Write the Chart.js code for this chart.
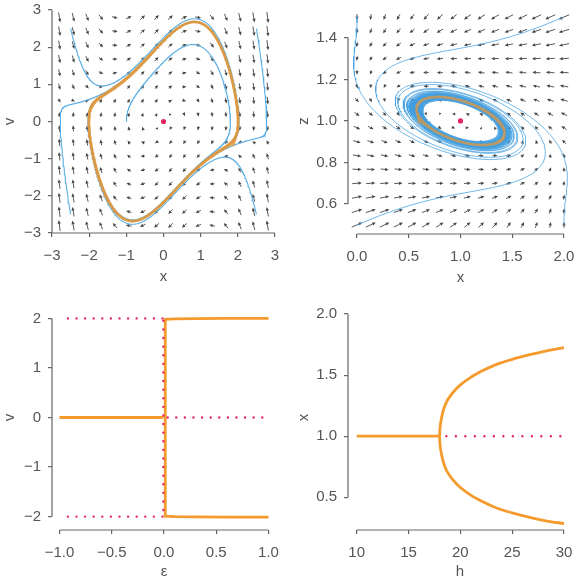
<!DOCTYPE html>
<html lang="fr">
<head>
<meta charset="utf-8">
<title>Portraits de phase et bifurcations</title>
<script src="https://cdn.jsdelivr.net/npm/chart.js@4.4.2/dist/chart.umd.min.js"></script>
<style>
  html, body { margin: 0; padding: 0; background: #fff; }
  #figure { position: relative; width: 577px; height: 582px; overflow: hidden; }
  #figure canvas { position: absolute; }
</style>
</head>
<body>
<div id="figure">
  <canvas id="vdp-phase" width="288" height="291" style="left:0;top:0"></canvas>
  <canvas id="xz-phase" width="289" height="291" style="left:288px;top:0"></canvas>
  <canvas id="eps-bif" width="288" height="292" style="left:0;top:290px"></canvas>
  <canvas id="h-bif" width="289" height="292" style="left:288px;top:290px"></canvas>
</div>
<script>
// ---- panneau 1 : Van der Pol (x, v) ----
const vdpMu = 1.0;
const vdpEquilibrium = [0, 0];
const vdpGrid = [-2.8, -2.427, -2.053, -1.68, -1.307, -0.933, -0.56, -0.187,
                 0.187, 0.56, 0.933, 1.307, 1.68, 2.053, 2.427, 2.8];
const vdpStarts = [[-2.5, 2.5], [2.5, -2.5], [-2.5, -2.5], [2.5, 2.5], [-1, 0]];
const vdpCycleStart = [2, 0];
const vdpTicks = [-3, -2, -1, 0, 1, 2, 3];
const vdpLabels = ['−3', '−2', '−1', '0', '1', '2', '3'];

// ---- panneau 2 : système (x, z) autour de (1, 1) ----
const xzEquilibrium = [1, 1];
const xzLinear = [-1.85, -13.5, 1.0];   // a, b, c  (d = -a)
const xzMu = 0.3;
const xzCycleLevel = 0.1349;
const xzGridX = [0, 0.133, 0.267, 0.4, 0.533, 0.667, 0.8, 0.933,
                 1.067, 1.2, 1.333, 1.467, 1.6, 1.733, 1.867, 2.0];
const xzGridZ = [0.5, 0.567, 0.633, 0.7, 0.767, 0.833, 0.9, 0.967,
                 1.033, 1.1, 1.167, 1.233, 1.3, 1.367, 1.433, 1.5];
const xzStarts = [[0, 1.5], [2, 0.5], [2, 1.5], [0, 0.5], [1.31, 1.0], [0.69, 1.0]];
const xzXTicks = [0, 0.5, 1, 1.5, 2];
const xzXLabels = ['0.0', '0.5', '1.0', '1.5', '2.0'];
const xzZTicks = [0.6, 0.8, 1.0, 1.2, 1.4];
const xzZLabels = ['0.6', '0.8', '1.0', '1.2', '1.4'];

// ---- panneau 3 : bifurcation en ε ----
const epsRestE = [-1, -0.005];
const epsRestV = [0, 0];
const epsCycleE = [1.0, 0.6, 0.3, 0.1, 0.012, 0.012, 0.1, 0.3, 0.6, 1.0];
const epsCycleV = [2.0, 2.0, 1.995, 1.99, 1.98, -1.99, -2.0, -2.005, -2.01, -2.01];
const epsUnstTopE = [-0.92, -0.01], epsUnstTopV = [2, 2];
const epsUnstBotE = [-0.92, -0.01], epsUnstBotV = [-2, -2];
const epsUnstVertE = [-0.006, -0.006], epsUnstVertV = [1.95, -1.95];
const epsUnstRightE = [0.035, 1.0], epsUnstRightV = [0, 0];
const epsXTicks = [-1, -0.5, 0, 0.5, 1];
const epsXLabels = ['−1.0', '−0.5', '0.0', '0.5', '1.0'];
const epsVTicks = [-2, -1, 0, 1, 2];
const epsVLabels = ['−2', '−1', '0', '1', '2'];

// ---- panneau 4 : bifurcation en h ----
const hRest = [10, 18];
const xRest = [1, 1];
const hBranch = [18, 18.03, 18.1, 18.36, 18.68, 19, 19.32, 20, 20.93, 22.22, 23.5, 25, 26.7, 28.33, 30];
const xUpper = [1.0, 1.06, 1.11, 1.213, 1.283, 1.326, 1.362, 1.42, 1.478, 1.539, 1.588, 1.629, 1.667, 1.698, 1.725];
const xLower = [1.0, 0.94, 0.89, 0.787, 0.717, 0.674, 0.638, 0.58, 0.522, 0.461, 0.412, 0.372, 0.335, 0.305, 0.285];
const hUnstable = [18.65, 30];
const xUnstable = [1, 1];
const hTicks = [10, 15, 20, 25, 30];
const hLabels = ['10', '15', '20', '25', '30'];
const xTicks4 = [0.5, 1.0, 1.5, 2.0];
const xLabels4 = ['0.5', '1.0', '1.5', '2.0'];

// ---- style ----
const FONT = '"Liberation Sans", Arial, sans-serif';
const FONT_SIZE = 15;
const TEXT = '#555555';
const AXIS = '#666666';
const ORANGE = '#f59a2c';
const RED = '#e6245f';
const BLUE = '#5aaee3';
const ARROW = '#454545';

const zip = (xs, ys) => xs.map((x, i) => ({ x, y: ys[i] }));

// champs de vecteurs
const vdpField = (x, v) => [v, vdpMu * (1 - x * x) * v - x];

function xzField(x, z) {
  const [a, b, c] = xzLinear;
  const X = x - xzEquilibrium[0], Z = z - xzEquilibrium[1];
  const q = c * X * X - 2 * a * X * Z - b * Z * Z;
  const s = q / xzCycleLevel - 1;
  const g = -xzMu * s * Math.abs(s) / (Math.abs(s) + 1);
  return [a * X + b * Z + g * X, c * X - a * Z + g * Z];
}

// RK4
function integrate(field, start, T, dt, every, box) {
  let [x, y] = start;
  const pts = [{ x, y }];
  const n = Math.round(T / dt);
  for (let i = 1; i <= n; i++) {
    const k1 = field(x, y);
    const k2 = field(x + dt / 2 * k1[0], y + dt / 2 * k1[1]);
    const k3 = field(x + dt / 2 * k2[0], y + dt / 2 * k2[1]);
    const k4 = field(x + dt * k3[0], y + dt * k3[1]);
    x += dt / 6 * (k1[0] + 2 * k2[0] + 2 * k3[0] + k4[0]);
    y += dt / 6 * (k1[1] + 2 * k2[1] + 2 * k3[1] + k4[1]);
    if (box && (x < box[0] || x > box[1] || y < box[2] || y > box[3])) { pts.push({ x, y }); break; }
    if (i % every === 0 || i === n) pts.push({ x, y });
  }
  return pts;
}

// flèches du champ, dessinées via les échelles
function quiverPlugin(gridX, gridY, field, maxLen) {
  return {
    id: 'quiver',
    beforeDatasetsDraw(chart) {
      const { ctx, scales: { x, y } } = chart;
      const kx = x.getPixelForValue(1) - x.getPixelForValue(0);
      const ky = y.getPixelForValue(1) - y.getPixelForValue(0);
      const arrows = [];
      let mMax = 0;
      gridY.forEach(gv => gridX.forEach(gu => {
        const [u, w] = field(gu, gv);
        const m = Math.hypot(u, w);
        mMax = Math.max(mMax, m);
        arrows.push([gu, gv, u, w, m]);
      }));
      ctx.save();
      ctx.strokeStyle = ARROW;
      ctx.fillStyle = ARROW;
      ctx.lineWidth = 0.9;
      arrows.forEach(([gu, gv, u, w, m]) => {
        const cx = x.getPixelForValue(gu), cy = y.getPixelForValue(gv);
        let dx = u * kx, dy = w * ky;
        const d = Math.hypot(dx, dy) || 1;
        dx /= d; dy /= d;
        const len = maxLen * Math.pow(m / mMax, 0.3);
        const tx = cx + dx * len / 2, ty = cy + dy * len / 2;
        const hl = Math.min(3.6, len), hw = hl * 0.45;
        const bx = tx - dx * hl, by = ty - dy * hl;
        if (len > hl) {
          ctx.beginPath();
          ctx.moveTo(cx - dx * len / 2, cy - dy * len / 2);
          ctx.lineTo(bx, by);
          ctx.stroke();
        }
        ctx.beginPath();
        ctx.moveTo(tx, ty);
        ctx.lineTo(bx - dy * hw, by + dx * hw);
        ctx.lineTo(bx + dy * hw, by - dx * hw);
        ctx.closePath();
        ctx.fill();
      });
      ctx.restore();
    }
  };
}

// axes « despine » : coupés aux premières/dernières graduations
const spinePlugin = {
  id: 'spines',
  afterDraw(chart) {
    const { ctx, chartArea: a, scales: { x, y } } = chart;
    const xt = x.ticks, yt = y.ticks;
    ctx.save();
    ctx.strokeStyle = AXIS;
    ctx.lineWidth = 1.2;
    ctx.beginPath();
    ctx.moveTo(a.left, y.getPixelForValue(yt[0].value));
    ctx.lineTo(a.left, y.getPixelForValue(yt[yt.length - 1].value));
    ctx.moveTo(x.getPixelForValue(xt[0].value), a.bottom);
    ctx.lineTo(x.getPixelForValue(xt[xt.length - 1].value), a.bottom);
    ctx.stroke();
    ctx.restore();
  }
};

function axis(kind, min, max, ticks, labels, title, size) {
  return {
    type: 'linear', min, max,
    afterBuildTicks: s => { s.ticks = ticks.map(v => ({ value: v })); },
    afterFit: s => {
      if (kind === 'x') s.height = size; else s.width = size;
      s.paddingTop = s.paddingBottom = s.paddingLeft = s.paddingRight = 0;
    },
    grid: { drawOnChartArea: false, drawTicks: true, tickLength: 4, color: AXIS, lineWidth: 1.2 },
    border: { display: false },
    ticks: {
      autoSkip: false, maxRotation: 0, padding: kind === 'x' ? 10 : 7,
      color: TEXT, font: { family: FONT, size: FONT_SIZE },
      callback: (v, i) => labels[i]
    },
    title: { display: true, text: title, color: TEXT, font: { family: FONT, size: FONT_SIZE }, padding: { top: 1, bottom: 1 } }
  };
}

function line(data, color, width, extra) {
  return Object.assign({ data, showLine: true, borderColor: color, backgroundColor: color,
    borderWidth: width, pointRadius: 0, fill: false, tension: 0 }, extra || {});
}

function dot(p) {
  return { data: [{ x: p[0], y: p[1] }], showLine: false, pointRadius: 2.6,
    pointBackgroundColor: RED, pointBorderWidth: 0, order: 0 };
}

function makeChart(id, datasets, xAxis, yAxis, padding, plugins) {
  return new Chart(document.getElementById(id), {
    type: 'scatter',
    data: { datasets },
    options: {
      responsive: false, animation: false, events: [],
      layout: { padding },
      plugins: { legend: { display: false }, tooltip: { enabled: false } },
      scales: { x: xAxis, y: yAxis }
    },
    plugins: [spinePlugin].concat(plugins || [])
  });
}

// ---- panneau 1 ----
const vdpLines = vdpStarts.map(p => line(integrate(vdpField, p, 15, 0.005, 2, [-3, 3, -3, 3]), BLUE, 1.1, { order: 2 }));
const vdpWarm = integrate(vdpField, vdpCycleStart, 40, 0.005, 100000);
const vdpCycle = integrate(vdpField, [vdpWarm.at(-1).x, vdpWarm.at(-1).y], 6.75, 0.005, 2);
makeChart('vdp-phase',
  vdpLines.concat([line(vdpCycle, 'rgba(240,150,45,0.85)', 2.8, { order: 1 }), dot(vdpEquilibrium)]),
  axis('x', -3, 3, vdpTicks, vdpLabels, 'x', 54),
  axis('y', -3, 3, vdpTicks, vdpLabels, 'v', 52),
  { left: 0, top: 10, right: 13, bottom: 4 },
  [quiverPlugin(vdpGrid, vdpGrid, vdpField, 11)]);

// ---- panneau 2 ----
const xzBox = [-0.087, 2.087, 0.456, 1.5435];
const xzLines = xzStarts.map(p => line(integrate(xzField, p, 40, 0.004, 3, xzBox), 'rgba(70,160,225,0.85)', 0.9, { order: 2 }));
const xzCycle = integrate(xzField, [xzEquilibrium[0] + Math.sqrt(xzCycleLevel / xzLinear[2]), xzEquilibrium[1]], 2.05, 0.002, 2);
makeChart('xz-phase',
  xzLines.concat([line(xzCycle, 'rgba(235,150,50,0.7)', 2.6, { order: 1 }), dot(xzEquilibrium)]),
  axis('x', xzBox[0], xzBox[1], xzXTicks, xzXLabels, 'x', 54),
  axis('y', xzBox[2], xzBox[3], xzZTicks, xzZLabels, 'z', 54),
  { left: 6, top: 8, right: 4, bottom: 3 },
  [quiverPlugin(xzGridX, xzGridZ, xzField, 11.5)]);

// ---- panneau 3 ----
const dotted = { borderDash: [0, 8.6], borderCapStyle: 'round', order: 0 };
makeChart('eps-bif', [
    line(zip(epsRestE, epsRestV), ORANGE, 2.8, { order: 1 }),
    line(zip(epsCycleE, epsCycleV), ORANGE, 2.8, { order: 1 }),
    line(zip(epsUnstTopE, epsUnstTopV), RED, 2.4, dotted),
    line(zip(epsUnstBotE, epsUnstBotV), RED, 2.4, dotted),
    line(zip(epsUnstVertE, epsUnstVertV), RED, 2.4, dotted),
    line(zip(epsUnstRightE, epsUnstRightV), RED, 2.4, dotted)
  ],
  axis('x', -1.072, 1.072, epsXTicks, epsXLabels, 'ε', 52),
  axis('y', -2.27, 2.27, epsVTicks, epsVLabels, 'v', 52),
  { left: 0, top: 15, right: 12, bottom: 0 });

// ---- panneau 4 ----
const smooth = { order: 1, cubicInterpolationMode: 'monotone' };
makeChart('h-bif', [
    line(zip(hRest, xRest), ORANGE, 2.8, { order: 1 }),
    line(zip(hBranch, xUpper), ORANGE, 2.8, smooth),
    line(zip(hBranch, xLower), ORANGE, 2.8, smooth),
    line(zip(hUnstable, xUnstable), RED, 2.4, Object.assign({}, dotted, { borderDash: [0, 9.5] }))
  ],
  axis('x', 9.16, 30.77, hTicks, hLabels, 'h', 52),
  axis('y', 0.232, 2.074, xTicks4, xLabels4, 'x', 54),
  { left: 6, top: 15, right: 5, bottom: 0 });
</script>
</body>
</html>
